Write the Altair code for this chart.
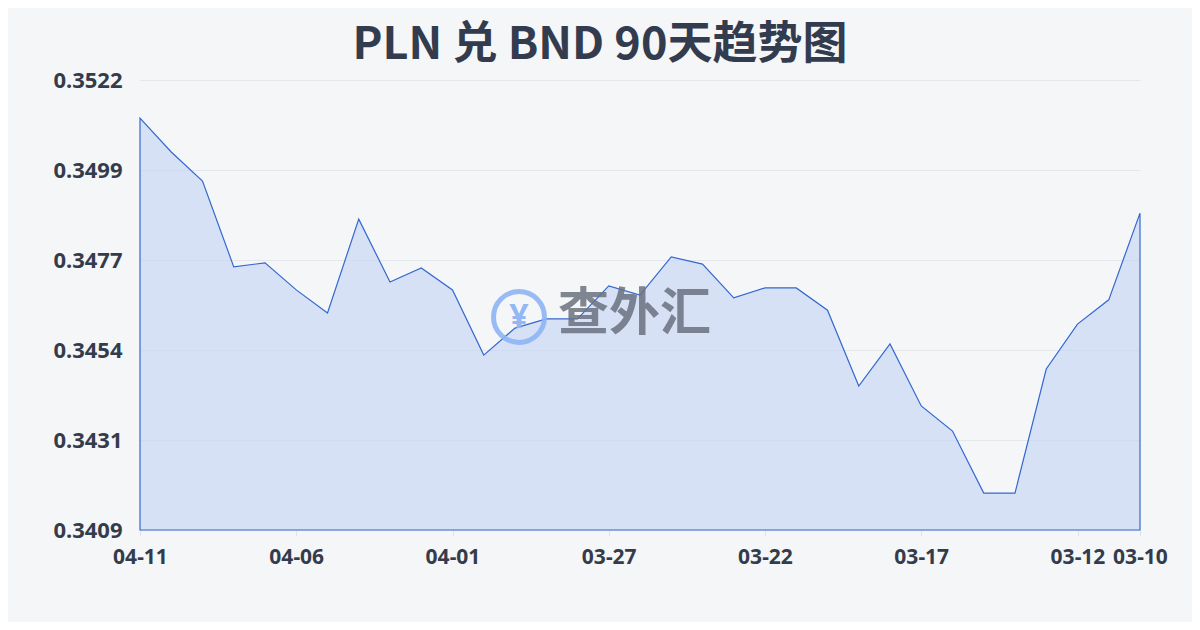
import altair as alt
import pandas as pd

# Dates shown left to right (newest first)
dates = ["04-11", "04-10", "04-09", "04-08", "04-07", "04-06", "04-05", "04-04",
         "04-03", "04-02", "04-01", "03-31", "03-30", "03-29", "03-28", "03-27",
         "03-26", "03-25", "03-24", "03-23", "03-22", "03-21", "03-20", "03-19",
         "03-18", "03-17", "03-16", "03-15", "03-14", "03-13", "03-12", "03-11", "03-10"]
rates = [0.35124, 0.35039, 0.34966, 0.34750, 0.34760, 0.34692, 0.34634, 0.34870,
         0.34712, 0.34747, 0.34692, 0.34528, 0.34596, 0.34619, 0.34619, 0.34702,
         0.34679, 0.34775, 0.34757, 0.34672, 0.34697, 0.34697, 0.34641, 0.34450,
         0.34556, 0.34400, 0.34337, 0.34181, 0.34181, 0.34493, 0.34606, 0.34667, 0.34885]
y_ticks = [0.34088, 0.343144, 0.345408, 0.347672, 0.349936, 0.3522]
x_tick_labels = ["04-11", "04-06", "04-01", "03-27", "03-22", "03-17", "03-12", "03-10"]
title_text = "PLN 兑 BND 90天趋势图"
watermark_text = "查外汇"

df = pd.DataFrame({"idx": list(range(len(dates))), "date": dates, "rate": rates})
x_tick_idx = [dates.index(d) for d in x_tick_labels]
label_expr = "[" + ",".join("'" + d + "'" for d in dates) + "][datum.value]"

W, H = 1000, 450
text_color = "#343c4b"

x_enc = alt.X("idx:Q",
              scale=alt.Scale(domain=[0, len(dates) - 1], nice=False, zero=False),
              axis=alt.Axis(values=x_tick_idx, labelExpr=label_expr, title=None,
                            grid=False, domain=False, ticks=True, tickSize=6,
                            tickColor="#dfe3e8", labelPadding=10, labelFlush=False,
                            labelFont="Noto Sans", labelFontSize=21, labelFontWeight="bold",
                            labelColor=text_color, labelOverlap=False))
y_enc = alt.Y("rate:Q",
              scale=alt.Scale(domain=[y_ticks[0], y_ticks[-1]], nice=False, zero=False),
              axis=alt.Axis(values=y_ticks, format=".4f", title=None,
                            grid=True, gridColor="#e3e6eb", gridWidth=1,
                            domain=False, ticks=False, labelPadding=18,
                            labelFont="Noto Sans", labelFontSize=22, labelFontWeight="bold",
                            labelColor=text_color))

area = alt.Chart(df).mark_area(
    fill="#c5d5f3", fillOpacity=0.65, stroke="#3468d0", strokeWidth=1.2,
    interpolate="linear"
).encode(x=x_enc, y=y_enc, y2=alt.datum(y_ticks[0]))

title = alt.Chart(pd.DataFrame({"t": [title_text]})).mark_text(
    font="Noto Sans CJK SC", fontSize=45, fontWeight="bold", color="#333c4e",
    align="center", baseline="middle"
).encode(text="t:N", x=alt.value(460), y=alt.value(-35))

wm = alt.Chart(pd.DataFrame({"t": [watermark_text]})).mark_text(
    font="Noto Sans CJK SC", fontSize=51, fontWeight="bold", color="#6b7280",
    opacity=0.85, align="left", baseline="middle"
).encode(text="t:N", x=alt.value(418), y=alt.value(235))

logo_ring = alt.Chart(pd.DataFrame({"t": [1]})).mark_point(
    shape="circle", size=2600, filled=False, stroke="#8fb5f5", strokeWidth=5, opacity=0.9
).encode(x=alt.value(379), y=alt.value(237))

logo_yen = alt.Chart(pd.DataFrame({"t": ["¥"]})).mark_text(
    font="Noto Sans", fontSize=34, fontWeight="bold", color="#8fb5f5", opacity=0.95,
    align="center", baseline="middle"
).encode(text="t:N", x=alt.value(379), y=alt.value(238))

chart = alt.layer(area, wm, logo_ring, logo_yen, title).properties(
    width=W, height=H,
    autosize=alt.AutoSizeParams(type="none"),
    padding={"left": 132, "top": 72, "right": 52, "bottom": 92},
    background="#f5f6f8"
).configure_view(stroke=None)

chart.save("out.html", embed_options={"renderer": "svg", "actions": False})
